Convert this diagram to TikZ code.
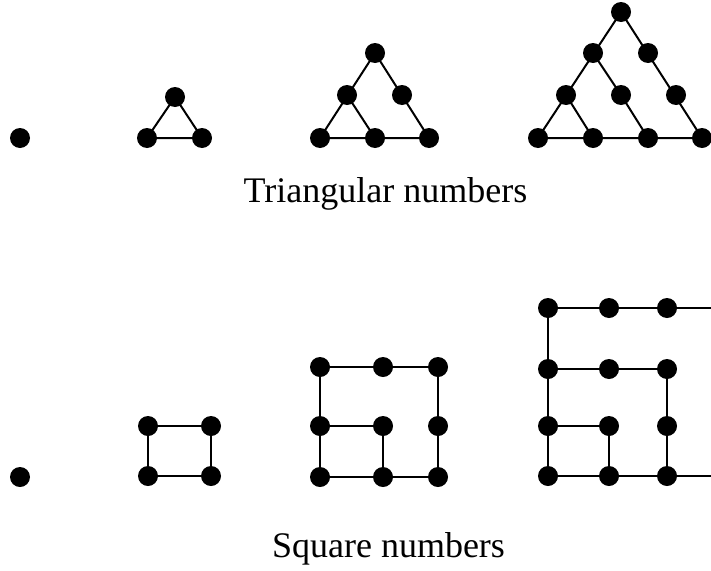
\documentclass[tikz,border=0pt]{standalone}
\usepackage{fontspec}
\setmainfont{Liberation Serif}
\begin{document}
\begin{tikzpicture}[x=1pt,y=-1pt,
  dot/.style={circle,fill=black,inner sep=0pt,minimum size=20pt},
  edge/.style={line width=2pt,line join=miter},
  lbl/.style={font=\fontsize{36}{40}\selectfont,anchor=base,inner sep=0pt}]
\useasboundingbox (0,0) rectangle (711,570);
% ---------- triangular numbers ----------
\node[dot] (t1) at (20,138) {};
% T2
\node[dot] (a1) at (175,97) {};
\node[dot] (a2) at (147,138) {};
\node[dot] (a3) at (202,138) {};
\draw[edge] (a1.center) -- (a2.center) -- (a3.center) -- cycle;
% T3
\node[dot] (b1) at (375,53) {};
\node[dot] (b2) at (347,95) {};
\node[dot] (b3) at (402,95) {};
\node[dot] (b4) at (320,138) {};
\node[dot] (b5) at (375,138) {};
\node[dot] (b6) at (429,138) {};
\draw[edge] (b1.center) -- (b4.center) -- (b6.center) -- cycle;
\draw[edge] (b2.center) -- (b5.center);
% T4
\node[dot] (c1) at (621,12) {};
\node[dot] (c2) at (593,53) {};
\node[dot] (c3) at (648,53) {};
\node[dot] (c4) at (566,95) {};
\node[dot] (c5) at (621,95) {};
\node[dot] (c6) at (676,95) {};
\node[dot] (c7) at (538,138) {};
\node[dot] (c8) at (593,138) {};
\node[dot] (c9) at (648,138) {};
\node[dot] (c10) at (702,138) {};
\draw[edge] (c1.center) -- (c7.center) -- (c10.center) -- cycle;
\draw[edge] (c2.center) -- (c5.center) -- (c9.center);
\draw[edge] (c4.center) -- (c8.center);
\node[lbl] (tl) at (385.5,202) {Triangular numbers};
% ---------- square numbers ----------
\node[dot] (s1) at (20,477) {};
% S2
\node[dot] (p1) at (148,426) {};
\node[dot] (p2) at (211,426) {};
\node[dot] (p3) at (148,476) {};
\node[dot] (p4) at (211,476) {};
\draw[edge] (p1.center) -- (p2.center) -- (p4.center) -- (p3.center) -- cycle;
% S3
\node[dot] (q1) at (320,367) {};
\node[dot] (q2) at (383,367) {};
\node[dot] (q3) at (438,367) {};
\node[dot] (q4) at (320,426) {};
\node[dot] (q5) at (383,426) {};
\node[dot] (q6) at (438,426) {};
\node[dot] (q7) at (320,477) {};
\node[dot] (q8) at (383,477) {};
\node[dot] (q9) at (438,477) {};
\draw[edge] (q1.center) -- (q3.center) -- (q9.center) -- (q7.center) -- cycle;
\draw[edge] (q4.center) -- (q5.center) -- (q8.center);
% S4
\node[dot] (r1) at (548,308) {};
\node[dot] (r2) at (609,308) {};
\node[dot] (r3) at (667,308) {};
\node[dot] (r4) at (548,369) {};
\node[dot] (r5) at (609,369) {};
\node[dot] (r6) at (667,369) {};
\node[dot] (r7) at (548,426) {};
\node[dot] (r8) at (609,426) {};
\node[dot] (r9) at (667,426) {};
\node[dot] (r10) at (548,476) {};
\node[dot] (r11) at (609,476) {};
\node[dot] (r12) at (667,476) {};
\coordinate (rt) at (711,308);
\coordinate (rb) at (711,476);
\draw[edge] (rt) -- (r1.center) -- (r10.center) -- (rb);
\draw[edge] (r4.center) -- (r6.center) -- (r12.center);
\draw[edge] (r7.center) -- (r8.center) -- (r11.center);
\node[lbl] (sl) at (388.5,557) {Square numbers};
\end{tikzpicture}
\end{document}
